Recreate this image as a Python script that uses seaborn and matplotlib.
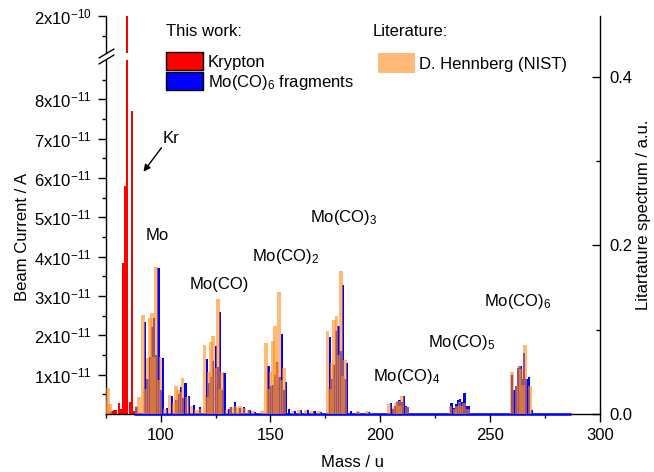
import matplotlib
matplotlib.use("Agg")
import numpy as np
import matplotlib.pyplot as plt
import seaborn as sns
from matplotlib.patches import Rectangle
from matplotlib.lines import Line2D
from matplotlib.ticker import FixedLocator, FuncFormatter

# ---- data ----
# Krypton scan (mass as read on the axis, current in units of 1e-11 A)
kr_mass = [75.9, 76.9, 77.9, 78.9, 79.9, 80.9, 81.9, 82.9, 83.9, 84.9, 85.9, 86.8, 87.9]
kr_current = [0.05, 0.06, 0.08, 0.10, 0.10, 0.28, 0.12, 3.85, 5.80, 26.0, 0.30, 7.70, 0.08]

# Mo(CO)6 fragment scan (1e-11 A)
mo_mass = [89.0, 93.0, 94.0, 95.0, 96.0, 97.0, 98.0, 99.0, 100.0, 101.0,
           103.0, 105.1, 107.2, 108.2, 109.1, 110.0, 111.3, 113.0, 115.1, 117.9,
           121.2, 122.1, 123.0, 124.0, 125.1, 126.0, 127.1, 128.1, 129.1, 131.0,
           132.2, 134.0, 136.0, 138.0, 140.5, 143.0,
           149.1, 150.1, 151.1, 152.1, 153.1, 154.1, 155.1, 156.1, 157.1, 158.5,
           161.0, 164.0, 167.0, 170.0, 173.0,
           177.1, 178.0, 179.0, 180.0, 181.0, 182.0, 183.1, 184.0, 185.0, 186.5,
           190.0, 195.0,
           204.7, 205.7, 206.7, 207.7, 208.7, 209.7, 210.7, 211.7, 212.7,
           232.4, 233.3, 234.3, 235.3, 236.4, 237.3, 238.3, 239.2, 240.1,
           259.8, 260.7, 261.6, 262.5, 263.8, 264.6, 265.5, 266.5, 267.6, 269.0]
mo_current = [0.18, 2.33, 0.90, 1.45, 2.20, 2.45, 1.50, 3.71, 0.60, 1.42,
              0.15, 0.47, 0.35, 0.50, 0.68, 0.40, 0.78, 0.45, 0.23, 0.18,
              1.40, 0.80, 0.95, 1.35, 1.73, 1.20, 2.60, 0.60, 1.05, 0.12,
              0.18, 0.30, 0.15, 0.18, 0.10, 0.06,
              1.23, 0.70, 0.75, 1.00, 1.33, 0.95, 2.03, 0.60, 0.82, 0.12,
              0.08, 0.10, 0.10, 0.08, 0.06,
              1.95, 0.90, 1.25, 2.10, 2.25, 1.60, 3.28, 0.90, 1.29, 0.08,
              0.04, 0.04,
              0.27, 0.12, 0.20, 0.30, 0.35, 0.30, 0.46, 0.20, 0.18,
              0.29, 0.15, 0.26, 0.36, 0.38, 0.30, 0.54, 0.20, 0.20,
              0.98, 0.60, 0.70, 1.16, 1.22, 0.90, 1.54, 0.90, 0.95, 0.10]
mo_scan_range = [88, 287]

# NIST reference spectrum (D. Hennberg), arbitrary units
lit_mass = [75, 76, 77, 89, 90,
            92, 93, 94, 95, 96, 97, 98, 99, 100,
            102, 104, 106, 107, 108, 109, 110, 112, 114, 116,
            118, 120, 121, 122, 123, 124, 125, 126, 127, 128,
            130, 132, 134, 135, 136, 138, 140, 142,
            146, 148, 149, 150, 151, 152, 153, 154, 155, 156,
            160, 163, 166, 169, 172,
            176, 177, 178, 179, 180, 181, 182, 183, 184,
            190, 194,
            204, 206, 207, 208, 209, 210, 212,
            232, 234, 235, 236, 237, 238, 240,
            260, 262, 263, 264, 265, 266, 268]
lit_intensity = [0.015, 0.031, 0.012, 0.010, 0.020,
                 0.117, 0.030, 0.066, 0.114, 0.120, 0.068, 0.174, 0.040, 0.068,
                 0.006, 0.022, 0.013, 0.033, 0.029, 0.026, 0.043, 0.020, 0.010, 0.005,
                 0.006, 0.082, 0.020, 0.050, 0.085, 0.092, 0.055, 0.137, 0.030, 0.050,
                 0.005, 0.008, 0.010, 0.007, 0.009, 0.007, 0.005, 0.004,
                 0.004, 0.084, 0.030, 0.050, 0.087, 0.105, 0.060, 0.145, 0.040, 0.055,
                 0.004, 0.005, 0.005, 0.004, 0.003,
                 0.099, 0.030, 0.060, 0.111, 0.116, 0.070, 0.170, 0.045, 0.064,
                 0.003, 0.003,
                 0.012, 0.008, 0.013, 0.015, 0.010, 0.021, 0.008,
                 0.009, 0.006, 0.010, 0.014, 0.009, 0.013, 0.006,
                 0.050, 0.033, 0.057, 0.053, 0.035, 0.082, 0.033]

fragment_names = ["Mo", "Mo(CO)", "Mo(CO)$_2$", "Mo(CO)$_3$",
                  "Mo(CO)$_4$", "Mo(CO)$_5$", "Mo(CO)$_6$"]

RED = "#ff0000"
BLUE = "#0000ff"
ORANGE = (1.0, 0.55, 0.12)
W, H = 654, 472


def px_box(left, top, right, bottom):
    return [left / W, 1 - bottom / H, (right - left) / W, (bottom - top) / H]


def sci_label(v, exp):
    return f"{v:g}x10$^{{{exp}}}$"


sns.set_theme(style="ticks")
plt.rcParams["font.family"] = ["Liberation Sans", "DejaVu Sans"]
plt.rcParams["mathtext.default"] = "regular"
for key in ["text.color", "axes.labelcolor", "xtick.color", "ytick.color", "axes.edgecolor"]:
    plt.rcParams[key] = "black"

fig = plt.figure(figsize=(W / 100, H / 100), dpi=100)
ax = fig.add_axes(px_box(105.7, 60, 600, 414))
ax_top = fig.add_axes(px_box(105.7, 16, 600, 53))
ax_lit = fig.add_axes(px_box(105.7, 16, 600, 414))
ax_lit.patch.set_visible(False)

kr = np.array(kr_current) * 1e-11
mo = np.array(mo_current) * 1e-11
for a in (ax, ax_top):
    a.bar(kr_mass, kr, width=0.9, color=RED, linewidth=0)
    a.bar(mo_mass, mo, width=1.0, color=BLUE, linewidth=0)
    a.set_xlim(75, 300)
ax.hlines(0, mo_scan_range[0], mo_scan_range[1], color=BLUE, lw=1.8, zorder=3, clip_on=False)

ax_lit.bar(lit_mass, lit_intensity, width=1.7, color=ORANGE, alpha=0.6, linewidth=0)
ax_lit.set_xlim(75, 300)
ax_lit.set_ylim(0, (414 - 16) / 842.5)

# lower axis
ax.set_ylim(0, 9.0e-11)
ax.yaxis.set_major_locator(FixedLocator(np.arange(1, 9) * 1e-11))
ax.yaxis.set_minor_locator(FixedLocator(np.arange(0.5, 9, 1) * 1e-11))
ax.yaxis.set_major_formatter(FuncFormatter(lambda v, p: sci_label(round(v * 1e11), -11)))
ax.xaxis.set_major_locator(FixedLocator([100, 150, 200, 250, 300]))
ax.xaxis.set_minor_locator(FixedLocator([75, 125, 175, 225, 275]))
ax.tick_params(which="major", direction="out", length=5.5, width=1, labelsize=12, pad=4.5)
ax.tick_params(which="minor", direction="out", length=3.1, width=1)
sns.despine(ax=ax, top=True, right=True)
ax.set_xlabel("Mass / u", fontsize=12, labelpad=9)
ax.set_ylabel("Beam Current / A", fontsize=12, labelpad=3)

# upper (broken) axis
ax_top.set_ylim(1.906e-10, 2.0e-10)
ax_top.yaxis.set_major_locator(FixedLocator([2e-10]))
ax_top.yaxis.set_minor_locator(FixedLocator([1.95e-10]))
ax_top.yaxis.set_major_formatter(FuncFormatter(lambda v, p: sci_label(2, -10)))
ax_top.tick_params(which="major", direction="out", length=5.5, width=1, labelsize=12, pad=4.5)
ax_top.tick_params(which="minor", direction="out", length=3.1, width=1)
ax_top.set_xticks([])
for s in ["top", "right", "bottom"]:
    ax_top.spines[s].set_visible(False)

# literature axis on the right
for s in ["top", "left", "bottom"]:
    ax_lit.spines[s].set_visible(False)
ax_lit.set_xticks([])
ax_lit.yaxis.tick_right()
ax_lit.yaxis.set_label_position("right")
ax_lit.yaxis.set_major_locator(FixedLocator([0.0, 0.2, 0.4]))
ax_lit.yaxis.set_minor_locator(FixedLocator([0.1, 0.3]))
ax_lit.yaxis.set_major_formatter(FuncFormatter(lambda v, p: f"{v:.1f}"))
ax_lit.tick_params(axis="y", which="major", direction="in", length=5.5, width=1, labelsize=12, pad=7)
ax_lit.tick_params(axis="y", which="minor", direction="in", length=3.1, width=1)
ax_lit.set_ylabel("Litartature spectrum / a.u.", fontsize=12, labelpad=2)
for a in (ax, ax_top, ax_lit):
    for s in a.spines.values():
        s.set_linewidth(1)

# axis break marks
for dy in (0, 6):
    fig.add_artist(Line2D([99 / W, 114 / W], [1 - (58 + dy) / H, 1 - (49 + dy) / H],
                          color="black", lw=1, transform=fig.transFigure))

# fragment labels
label_xy = [(93.3, 4.43e-11), (113.0, 3.17e-11), (141.4, 3.88e-11), (167.9, 4.89e-11),
            (196.6, 0.84e-11), (221.6, 1.70e-11), (247.0, 2.75e-11)]
for name, (x, y) in zip(fragment_names, label_xy):
    ax.text(x, y, name, fontsize=12, ha="left", va="baseline")
ax.text(100.9, 6.88e-11, "Kr", fontsize=12, ha="left", va="baseline")
ax.annotate("", xy=(92.2, 6.16e-11), xytext=(100.4, 6.77e-11),
            arrowprops=dict(arrowstyle="-|>", color="black", lw=1, mutation_scale=10,
                            shrinkA=0, shrinkB=0))


# legend, drawn by hand to follow the two-group layout
def fig_text(x, y, s):
    fig.text(x / W, 1 - y / H, s, fontsize=12, ha="left", va="baseline")


def fig_patch(x0, y0, x1, y1, **kw):
    fig.add_artist(Rectangle((x0 / W, 1 - y1 / H), (x1 - x0) / W, (y1 - y0) / H,
                             transform=fig.transFigure, **kw))


fig_text(166, 36.5, "This work:")
fig_patch(166, 52, 203, 70, facecolor=RED, edgecolor="black", lw=1)
fig_patch(166, 72, 203, 90, facecolor=BLUE, edgecolor="black", lw=1)
fig_text(208, 67, "Krypton")
fig_text(208, 86.5, "Mo(CO)$_6$ fragments")
fig_text(373, 36.5, "Literature:")
fig_patch(378, 53, 415, 73, facecolor=ORANGE, alpha=0.6, lw=0)
fig_text(419, 69, "D. Hennberg (NIST)")

fig.savefig("out.png", dpi=100)
